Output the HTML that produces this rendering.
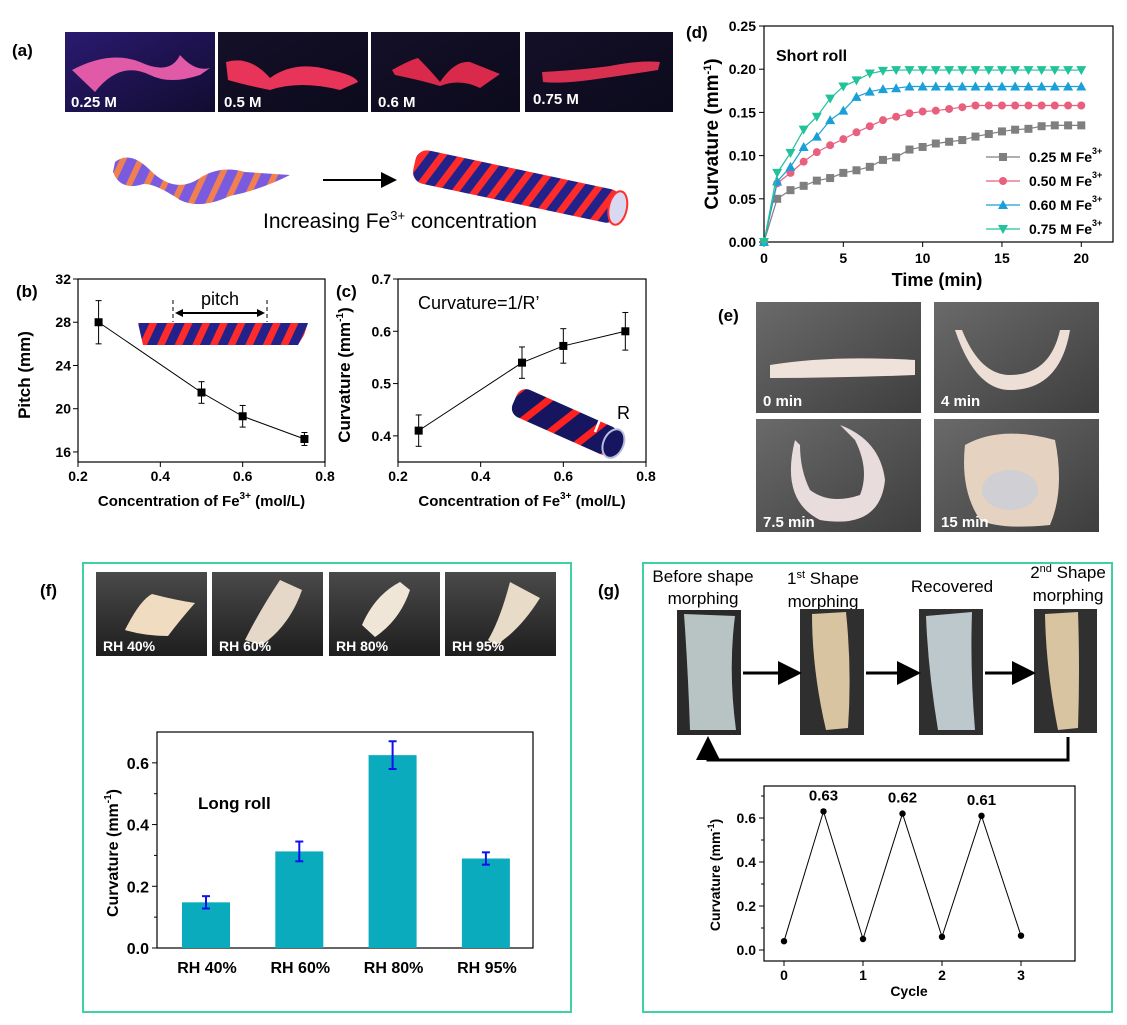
<!DOCTYPE html>
<html><head><meta charset="utf-8">
<style>
html,body{margin:0;padding:0;background:#fff;}
svg{display:block;font-family:"Liberation Sans",Arial,sans-serif;}
.b{font-weight:bold;}
</style></head>
<body>
<svg id="fig" width="1127" height="1025" viewBox="0 0 1127 1025" xmlns="http://www.w3.org/2000/svg">
<defs>
<linearGradient id="ph1" x1="0" y1="0" x2="1" y2="1"><stop offset="0" stop-color="#2a1a70"/><stop offset="1" stop-color="#120c30"/></linearGradient>
<linearGradient id="ph2" x1="0" y1="0" x2="1" y2="1"><stop offset="0" stop-color="#141028"/><stop offset="1" stop-color="#0c0a1c"/></linearGradient>
<linearGradient id="grayph" x1="0" y1="0" x2="1" y2="1"><stop offset="0" stop-color="#6a6a6a"/><stop offset="1" stop-color="#3e3e3e"/></linearGradient>
<linearGradient id="darkph" x1="0" y1="0" x2="0" y2="1"><stop offset="0" stop-color="#4a4a4a"/><stop offset="1" stop-color="#1e1e1e"/></linearGradient>
<pattern id="stripes" width="16" height="16" patternUnits="userSpaceOnUse" patternTransform="rotate(25)"><rect width="16" height="16" fill="#22228a"/><rect width="7" height="16" fill="#ff2a2a"/></pattern>
<pattern id="stripes2" width="16" height="16" patternUnits="userSpaceOnUse" patternTransform="rotate(25)"><rect width="16" height="16" fill="#7a5be0"/><rect width="6" height="16" fill="#f08050"/></pattern>
<pattern id="rings" width="26" height="40" patternUnits="userSpaceOnUse" patternTransform="rotate(28)"><rect width="26" height="40" fill="#161660"/><rect x="16" width="7" height="40" fill="#ff2020"/></pattern>
<marker id="ah" markerWidth="8" markerHeight="8" refX="6" refY="4" orient="auto"><path d="M0,0 L8,4 L0,8 z" fill="#000"/></marker>
</defs>

<g>
<text x="12" y="56" class="b" font-size="17">(a)</text>
<g><rect x="65" y="32" width="150" height="80" fill="url(#ph1)"/><path d="M72,70 Q110,50 140,62 Q170,76 180,55 Q195,72 210,68 L200,75 Q170,85 150,75 Q120,60 95,92 Z" fill="#e05aa8"/><text x="71" y="107" class="b" font-size="15" fill="#fff">0.25 M</text></g>
<g><rect x="218" y="32" width="150" height="80" fill="url(#ph2)"/><path d="M226,62 Q250,55 270,78 Q295,60 330,70 Q355,75 358,82 L340,90 Q300,80 270,90 Q245,85 228,80 Z" fill="#e83458"/><text x="224" y="107" class="b" font-size="15" fill="#fff">0.5 M</text></g>
<g><rect x="371" y="32" width="149" height="80" fill="url(#ph2)"/><path d="M392,70 Q410,60 418,58 Q430,70 440,82 Q455,60 470,62 Q490,70 500,74 L480,88 Q460,78 440,86 Q420,80 395,75 Z" fill="#d92a4c"/><text x="378" y="107" class="b" font-size="15" fill="#fff">0.6 M</text></g>
<g><rect x="525" y="32" width="148" height="80" fill="url(#ph2)"/><path d="M542,72 Q580,70 610,66 Q640,60 660,62 L658,70 Q620,76 590,80 Q560,84 543,82 Z" fill="#d83050"/><text x="533" y="104" class="b" font-size="15" fill="#fff">0.75 M</text></g>
<path d="M115,162 Q130,150 150,170 Q175,195 200,178 Q220,165 245,172 L290,175 Q260,190 230,196 Q200,210 180,200 Q150,180 140,185 Q120,190 113,172 Z" fill="url(#stripes2)"/>
<line x1="323" y1="180" x2="393" y2="180" stroke="#000" stroke-width="2" marker-end="url(#ah)"/>
<g transform="rotate(12 500 185)"><rect x="412" y="166" width="210" height="34" rx="12" fill="url(#stripes)"/><ellipse cx="620" cy="183" rx="9" ry="17" fill="#d8d8f0" stroke="#ff3030" stroke-width="2"/></g>
<text x="400" y="228" text-anchor="middle" font-size="21">Increasing Fe<tspan dy="-8" font-size="13">3+</tspan><tspan dy="8"> concentration</tspan></text>
</g>

<g>
<text x="718" y="321" class="b" font-size="17">(e)</text>
<g><rect x="756" y="302" width="165" height="111" fill="url(#grayph)"/><path d="M770,365 Q830,355 915,360 L915,375 Q840,378 770,378 Z" fill="#eee2da"/><text x="763" y="406" class="b" font-size="15" fill="#fff">0 min</text></g>
<g><rect x="934" y="302" width="165" height="111" fill="url(#grayph)"/><path d="M955,330 Q975,390 1010,390 Q1060,390 1070,330 L1060,330 Q1050,375 1010,375 Q980,375 962,330 Z" fill="#eedfd6"/><text x="941" y="406" class="b" font-size="15" fill="#fff">4 min</text></g>
<g><rect x="756" y="419" width="165" height="113" fill="url(#grayph)"/><path d="M795,440 Q780,500 820,520 Q880,530 885,480 Q880,440 840,425 L855,440 Q870,470 860,495 Q830,505 810,490 Q800,470 800,445 Z" fill="#e8dcdc"/><text x="763" y="527" class="b" font-size="15" fill="#fff">7.5 min</text></g>
<g><rect x="934" y="419" width="165" height="113" fill="url(#grayph)"/><path d="M965,445 Q1000,425 1055,440 Q1065,490 1050,525 Q1000,530 980,520 Q960,490 965,445 Z" fill="#e6d2c0"/><ellipse cx="1010" cy="490" rx="28" ry="20" fill="#cfcfd4"/><text x="941" y="527" class="b" font-size="15" fill="#fff">15 min</text></g>
</g>

<g>
<rect x="83" y="563" width="488" height="449" fill="none" stroke="#3fd2a0" stroke-width="2"/>
<text x="40" y="596" class="b" font-size="17">(f)</text>
<g><rect x="96" y="572" width="111" height="84" fill="url(#darkph)"/><path d="M125,630 Q140,600 152,594 Q175,600 195,603 Q180,620 168,636 Q145,636 125,630 Z" fill="#f0dcc0"/><text x="103" y="651" class="b" font-size="14" fill="#fff">RH 40%</text></g>
<g><rect x="212" y="572" width="111" height="84" fill="url(#darkph)"/><path d="M245,640 Q260,610 280,580 L302,590 Q290,625 262,645 Z" fill="#e6d8c8"/><text x="219" y="651" class="b" font-size="14" fill="#fff">RH 60%</text></g>
<g><rect x="329" y="572" width="111" height="84" fill="url(#darkph)"/><path d="M362,625 Q375,595 400,582 L410,590 Q400,620 375,637 Z" fill="#f0e6d8"/><text x="336" y="651" class="b" font-size="14" fill="#fff">RH 80%</text></g>
<g><rect x="445" y="572" width="111" height="84" fill="url(#darkph)"/><path d="M488,640 Q500,620 510,582 L540,598 Q520,630 496,645 Z" fill="#e8dcc8"/><text x="452" y="651" class="b" font-size="14" fill="#fff">RH 95%</text></g>
</g>

<g>
<rect x="643" y="563" width="469" height="449" fill="none" stroke="#3fd2a0" stroke-width="2"/>
<text x="598" y="596" class="b" font-size="17">(g)</text>
<g font-size="17" text-anchor="middle">
<text x="703" y="582">Before shape</text><text x="703" y="604">morphing</text>
<text x="823" y="584">1<tspan dy="-6" font-size="11">st</tspan><tspan dy="6"> Shape</tspan></text><text x="823" y="607">morphing</text>
<text x="952" y="592">Recovered</text>
<text x="1068" y="578">2<tspan dy="-6" font-size="11">nd</tspan><tspan dy="6"> Shape</tspan></text><text x="1068" y="601">morphing</text>
</g>
<rect x="677" y="610" width="64" height="125" fill="#2a2a2a"/><path d="M684,614 L735,616 Q728,670 736,730 L690,730 Q688,670 684,614 Z" fill="#b8c4c4"/>
<rect x="800" y="609" width="64" height="126" fill="#2f2f2f"/><path d="M812,614 L846,612 Q852,670 848,728 L826,730 Q812,670 812,614 Z" fill="#d8c4a0"/>
<rect x="919" y="609" width="64" height="126" fill="#2f2f2f"/><path d="M926,616 L972,612 Q970,670 975,730 L938,730 Q928,670 926,616 Z" fill="#bcc8cc"/>
<rect x="1034" y="609" width="63" height="124" fill="#303030"/><path d="M1045,614 L1078,612 Q1080,670 1078,728 L1058,730 Q1046,670 1045,614 Z" fill="#d8c4a0"/>
<g stroke="#000" stroke-width="3" fill="none">
<line x1="743" y1="673" x2="796" y2="673" marker-end="url(#ah)"/>
<line x1="866" y1="673" x2="915" y2="673" marker-end="url(#ah)"/>
<line x1="985" y1="673" x2="1030" y2="673" marker-end="url(#ah)"/>
<polyline points="1068,737 1068,760 708,760 708,742" marker-end="url(#ah)"/>
</g>
</g>

<g id="charts"></g>
</svg>

<script>
const NS="http://www.w3.org/2000/svg";
const root=document.getElementById('charts');
function el(tag,attrs,parent,text){const e=document.createElementNS(NS,tag);for(const k in attrs)e.setAttribute(k,attrs[k]);if(text!==undefined)e.textContent=text;(parent||root).appendChild(e);return e;}

// ---------- Panel d data ----------
const dTimes=[0,0.83,1.67,2.5,3.33,4.17,5,5.83,6.67,7.5,8.33,9.17,10,10.83,11.67,12.5,13.33,14.17,15,15.83,16.67,17.5,18.33,19.17,20];
const dSeries025=[0,0.05,0.06,0.065,0.071,0.074,0.08,0.083,0.087,0.095,0.098,0.107,0.11,0.114,0.116,0.118,0.122,0.125,0.128,0.13,0.131,0.134,0.135,0.135,0.135];
const dSeries050=[0,0.068,0.08,0.093,0.104,0.112,0.119,0.127,0.134,0.141,0.145,0.149,0.151,0.152,0.154,0.156,0.158,0.158,0.158,0.158,0.158,0.158,0.158,0.158,0.158];
const dSeries060=[0,0.07,0.087,0.11,0.122,0.141,0.152,0.168,0.174,0.177,0.178,0.18,0.18,0.18,0.18,0.18,0.18,0.18,0.18,0.18,0.18,0.18,0.18,0.18,0.18];
const dSeries075=[0,0.08,0.103,0.13,0.145,0.166,0.18,0.187,0.195,0.198,0.199,0.199,0.199,0.199,0.199,0.199,0.199,0.199,0.199,0.199,0.199,0.199,0.199,0.199,0.199];
const dLegend=["0.25 M Fe","0.50 M Fe","0.60 M Fe","0.75 M Fe"];
const dYTicks=[0,0.05,0.10,0.15,0.20,0.25];
const dXTicks=[0,5,10,15,20];

// ---------- Panel b/c data ----------
const conc=[0.25,0.5,0.6,0.75];
const pitchVals=[28,21.5,19.3,17.2];
const pitchErr=[2,1,1,0.6];
const curvVals=[0.41,0.54,0.572,0.60];
const curvErr=[0.03,0.03,0.033,0.036];
const concTicks=[0.2,0.4,0.6,0.8];
const pitchTicks=[16,20,24,28,32];
const curvTicks=[0.4,0.5,0.6,0.7];

// ---------- Panel f data ----------
const rhCats=["RH 40%","RH 60%","RH 80%","RH 95%"];
const rhVals=[0.148,0.313,0.625,0.29];
const rhErr=[0.02,0.032,0.045,0.02];
const fYTicks=[0,0.2,0.4,0.6];

// ---------- Panel g data ----------
const cycleX=[0,0.5,1,1.5,2,2.5,3];
const cycleY=[0.04,0.63,0.05,0.62,0.06,0.61,0.065];
const cycleLabels=["","0.63","","0.62","","0.61",""];
const gXTicks=[0,1,2,3];
const gYTicks=[0,0.2,0.4,0.6];

function lin(d0,d1,r0,r1){return v=>r0+(v-d0)*(r1-r0)/(d1-d0);}
function frame(g,x0,x1,y0,y1){el('rect',{x:x0,y:y0,width:x1-x0,height:y1-y0,fill:'none',stroke:'#000','stroke-width':1.2},g);}

// ===== Panel d =====
(function(){
 const g=el('g',{});
 
 
 const X=lin(0,22,764,1113),Y=lin(0,0.25,242,26);
 frame(g,764,1113,26,242);
 el('text',{x:686,y:38,'font-size':17,'font-weight':'bold'},g,'(d)');
 dYTicks.forEach(t=>{el('line',{x1:764,x2:759,y1:Y(t),y2:Y(t),stroke:'#000'},g);el('text',{x:756,y:Y(t)+5,'text-anchor':'end','font-size':14,'font-weight':'bold'},g,t.toFixed(2));});
 dXTicks.forEach(t=>{el('line',{x1:X(t),x2:X(t),y1:242,y2:247,stroke:'#000'},g);el('text',{x:X(t),y:263,'text-anchor':'middle','font-size':14,'font-weight':'bold'},g,String(t));});
 el('text',{x:937,y:286,'text-anchor':'middle','font-size':18,'font-weight':'bold'},g,'Time (min)');
 const yt=el('text',{x:0,y:0,'text-anchor':'middle','font-size':19,'font-weight':'bold',transform:'translate(718,134) rotate(-90)'},g,'Curvature (mm');
 el('tspan',{dy:-7,'font-size':11},yt,'-1');el('tspan',{dy:7},yt,')');
 el('text',{x:776,y:61,'font-size':16,'font-weight':'bold'},g,'Short roll');
 const series=[dSeries025,dSeries050,dSeries060,dSeries075];
 const cols=['#7f7f7f','#e8607e','#1a9fd8','#22c29a'];
 const shapes=['sq','ci','tu','td'];
 function mark(sh,x,y,c,s){
  if(sh==='sq')return el('rect',{x:x-s,y:y-s,width:2*s,height:2*s,fill:c},g);
  if(sh==='ci')return el('circle',{cx:x,cy:y,r:s,fill:c},g);
  if(sh==='tu')return el('path',{d:`M${x},${y-s-1}L${x+s+1},${y+s}L${x-s-1},${y+s}Z`,fill:c},g);
  return el('path',{d:`M${x},${y+s+1}L${x+s+1},${y-s}L${x-s-1},${y-s}Z`,fill:c},g);
 }
 series.forEach((s,i)=>{
  const pl=el('polyline',{points:s.map((v,j)=>X(dTimes[j])+','+Y(v)).join(' '),fill:'none',stroke:cols[i],'stroke-width':1.2},g);
  
  
  s.forEach((v,j)=>{const m=mark(shapes[i],X(dTimes[j]),Y(v),cols[i],4);});
  const ly=157+i*24;
  el('line',{x1:986,x2:1020,y1:ly,y2:ly,stroke:cols[i],'stroke-width':1.2},g);
  mark(shapes[i],1003,ly,cols[i],4);
  const lt=el('text',{x:1029,y:ly+5,'font-size':14,'font-weight':'bold'},g,dLegend[i]);
  
  
  el('tspan',{dy:-8,'font-size':9},lt,'3+');
 });
})();

// ===== Panels b and c =====
function concPanel(name,label,x0,x1,yd0,yd1,ticks,vals,errs,ytitle,fmt,ylab){
 const g=el('g',{});
 
 
 const X=lin(0.2,0.8,x0,x1),Y=lin(yd0,yd1,462,279);
 frame(g,x0,x1,279,462);
 el('text',{x:x0-62,y:297,'font-size':17,'font-weight':'bold'},g,label);
 ticks.forEach(t=>{el('line',{x1:x0,x2:x0-5,y1:Y(t),y2:Y(t),stroke:'#000'},g);el('text',{x:x0-7,y:Y(t)+5,'text-anchor':'end','font-size':14,'font-weight':'bold'},g,fmt(t));});
 concTicks.forEach(t=>{el('line',{x1:X(t),x2:X(t),y1:462,y2:467,stroke:'#000'},g);el('text',{x:X(t),y:481,'text-anchor':'middle','font-size':14,'font-weight':'bold'},g,t.toFixed(1));});
 const xt=el('text',{x:(x0+x1)/2,y:506,'text-anchor':'middle','font-size':15,'font-weight':'bold'},g,'Concentration of Fe');
 el('tspan',{dy:-7,'font-size':10},xt,'3+');el('tspan',{dy:7},xt,' (mol/L)');
 const yt=el('text',{x:0,y:0,'text-anchor':'middle','font-size':17,'font-weight':'bold',transform:`translate(${x0-48},375) rotate(-90)`},g,ytitle);
 if(ylab){el('tspan',{dy:-7,'font-size':10},yt,'-1');el('tspan',{dy:7},yt,')');}
 el('polyline',{points:conc.map((c,i)=>X(c)+','+Y(vals[i])).join(' '),fill:'none',stroke:'#000','stroke-width':1},g);
 conc.forEach((c,i)=>{
  const x=X(c);
  el('line',{x1:x,x2:x,y1:Y(vals[i]-errs[i]),y2:Y(vals[i]+errs[i]),stroke:'#000'},g);
  el('line',{x1:x-3,x2:x+3,y1:Y(vals[i]-errs[i]),y2:Y(vals[i]-errs[i]),stroke:'#000'},g);
  el('line',{x1:x-3,x2:x+3,y1:Y(vals[i]+errs[i]),y2:Y(vals[i]+errs[i]),stroke:'#000'},g);
  const p=el('rect',{x:x-4,y:Y(vals[i])-4,width:8,height:8,fill:'#000'},g);
  
  
 });
 return g;
}
const gb=concPanel('chart-b','(b)',78,325,15.07,32,pitchTicks,pitchVals,pitchErr,'Pitch (mm)',t=>String(t),false);
el('path',{d:'M138,323 L308,323 L304,335 L298,345 L143,345 Z',fill:'url(#stripes)'},gb);
el('line',{x1:173,x2:173,y1:300,y2:322,stroke:'#000','stroke-dasharray':'4,3'},gb);
el('line',{x1:267,x2:267,y1:300,y2:322,stroke:'#000','stroke-dasharray':'4,3'},gb);
el('line',{x1:179,x2:261,y1:313,y2:313,stroke:'#000','stroke-width':2},gb);
el('path',{d:'M175,313 L183,309 L183,317 Z M265,313 L257,309 L257,317 Z',fill:'#000'},gb);
el('text',{x:220,y:305,'text-anchor':'middle','font-size':18},gb,'pitch');
const gc=concPanel('chart-c','(c)',398,646,0.35,0.7,curvTicks,curvVals,curvErr,'Curvature (mm',t=>t.toFixed(1),true);
el('text',{x:418,y:309,'font-size':18},gc,'Curvature=1/R\u2019');
const tube=el('g',{transform:'rotate(24 565 422)'},gc);
el('rect',{x:510,y:407,width:110,height:30,rx:10,fill:'url(#rings)'},tube);
el('ellipse',{cx:618,cy:422,rx:10,ry:15,fill:'#161660',stroke:'#b8bce0','stroke-width':2},tube);
el('line',{x1:595,y1:432,x2:601,y2:417,stroke:'#fff','stroke-width':2.5},gc);
el('text',{x:617,y:419,'font-size':18},gc,'R');

// ===== Panel f =====
(function(){
 const g=el('g',{});
 
 
 const Y=lin(0,0.7,948,732);
 const X=i=>206+i*93.3;
 frame(g,157,533,732,948);
 fYTicks.forEach(t=>{el('line',{x1:157,x2:152,y1:Y(t),y2:Y(t),stroke:'#000'},g);el('text',{x:149,y:Y(t)+6,'text-anchor':'end','font-size':16,'font-weight':'bold'},g,t.toFixed(1));});
 [0.1,0.3,0.5].forEach(t=>el('line',{x1:157,x2:154,y1:Y(t),y2:Y(t),stroke:'#000'},g));
 const yt=el('text',{x:0,y:0,'text-anchor':'middle','font-size':16,'font-weight':'bold',transform:'translate(118,853) rotate(-90)'},g,'Curvature (mm');
 el('tspan',{dy:-7,'font-size':10},yt,'-1');el('tspan',{dy:7},yt,')');
 el('text',{x:198,y:809,'font-size':17,'font-weight':'bold'},g,'Long roll');
 rhVals.forEach((v,i)=>{
  const x=X(i);
  const b=el('rect',{x:x-24,y:Y(v),width:48,height:948-Y(v),fill:'#0aabbd'},g);
  
  
  el('line',{x1:x,x2:x,y1:Y(v-rhErr[i]),y2:Y(v+rhErr[i]),stroke:'#1010ee','stroke-width':2},g);
  el('line',{x1:x-4,x2:x+4,y1:Y(v-rhErr[i]),y2:Y(v-rhErr[i]),stroke:'#1010ee','stroke-width':2},g);
  el('line',{x1:x-4,x2:x+4,y1:Y(v+rhErr[i]),y2:Y(v+rhErr[i]),stroke:'#1010ee','stroke-width':2},g);
  el('text',{x:x+1,y:973,'text-anchor':'middle','font-size':16,'font-weight':'bold'},g,rhCats[i]);
 });
})();

// ===== Panel g =====
(function(){
 const g=el('g',{});
 
 
 const X=lin(0,3,784,1021),Y=lin(0,0.6,950,818);
 frame(g,764,1075,786,961);
 gYTicks.forEach(t=>{el('line',{x1:764,x2:759,y1:Y(t),y2:Y(t),stroke:'#000'},g);el('text',{x:756,y:Y(t)+5,'text-anchor':'end','font-size':14,'font-weight':'bold'},g,t.toFixed(1));});
 [0.1,0.3,0.5,0.7].forEach(t=>el('line',{x1:764,x2:761,y1:Y(t),y2:Y(t),stroke:'#000'},g));
 gXTicks.forEach(t=>{el('line',{x1:X(t),x2:X(t),y1:961,y2:966,stroke:'#000'},g);el('text',{x:X(t),y:980,'text-anchor':'middle','font-size':14,'font-weight':'bold'},g,String(t));});
 el('text',{x:909,y:996,'text-anchor':'middle','font-size':14,'font-weight':'bold'},g,'Cycle');
 const yt=el('text',{x:0,y:0,'text-anchor':'middle','font-size':14,'font-weight':'bold',transform:'translate(720,875) rotate(-90)'},g,'Curvature (mm');
 el('tspan',{dy:-6,'font-size':9},yt,'-1');el('tspan',{dy:6},yt,')');
 el('polyline',{points:cycleX.map((c,i)=>X(c)+','+Y(cycleY[i])).join(' '),fill:'none',stroke:'#000','stroke-width':1},g);
 cycleX.forEach((c,i)=>{
  const p=el('circle',{cx:X(c),cy:Y(cycleY[i]),r:3.2,fill:'#000'},g);
  
  
  if(cycleLabels[i])el('text',{x:X(c),y:Y(cycleY[i])-11,'text-anchor':'middle','font-size':15,'font-weight':'bold'},g,cycleLabels[i]);
 });
})();
</script>
</body></html>
